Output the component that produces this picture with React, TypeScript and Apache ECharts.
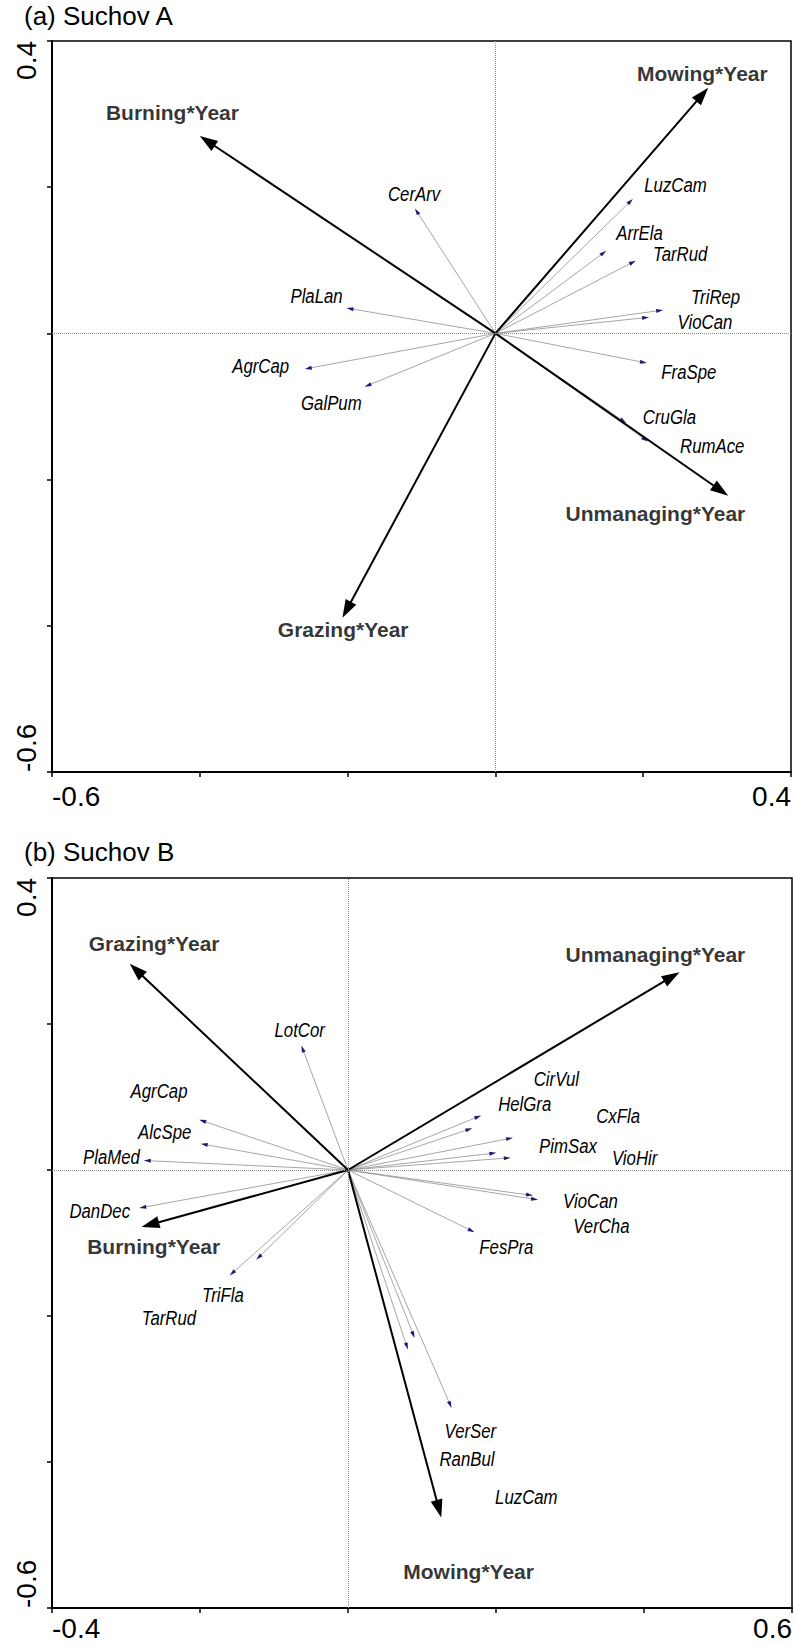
import React, { useEffect, useRef } from "react";
import * as echarts from "echarts";

// ---------- Panel (a) Suchov A ----------
const envNamesA = ["Burning*Year", "Mowing*Year", "Grazing*Year", "Unmanaging*Year"];
const envXA = [-0.4, 0.288, -0.207, 0.315];
const envYA = [0.27, 0.336, -0.389, -0.222];
const envLabelXA = [-0.437, 0.28, -0.206, 0.2165];
const envLabelYA = [0.302, 0.355, -0.405, -0.247];

const spNamesA = ["CerArv", "PlaLan", "AgrCap", "GalPum", "LuzCam", "ArrEla", "TarRud", "TriRep", "VioCan", "FraSpe", "CruGla", "RumAce"];
const spXA = [-0.109, -0.2015, -0.258, -0.177, 0.186, 0.15, 0.19, 0.227, 0.208, 0.205, 0.177, 0.2065];
const spYA = [0.171, 0.0347, -0.0487, -0.0729, 0.184, 0.113, 0.0995, 0.032, 0.022, -0.0405, -0.1226, -0.148];
const spLabelXA = [-0.11, -0.242, -0.3176, -0.222, 0.2437, 0.195, 0.25, 0.298, 0.2836, 0.2618, 0.2355, 0.2934];
const spLabelYA = [0.1915, 0.0516, -0.044, -0.0944, 0.203, 0.137, 0.1086, 0.0502, 0.0164, -0.0524, -0.1135, -0.1536];

const xTicksA = ["-0.6", "", "", "", "", "0.4"];
const yTicksA = ["-0.6", "", "", "", "", "0.4"];

// ---------- Panel (b) Suchov B ----------
const envNamesB = ["Grazing*Year", "Unmanaging*Year", "Burning*Year", "Mowing*Year"];
const envXB = [-0.295, 0.448, -0.279, 0.126];
const envYB = [0.2825, 0.271, -0.078, -0.476];
const envLabelXB = [-0.262, 0.4154, -0.2626, 0.163];
const envLabelYB = [0.31, 0.295, -0.1048, -0.55];

const spNamesB = ["LotCor", "AgrCap", "AlcSpe", "PlaMed", "DanDec", "TriFla", "TarRud", "CirVul", "HelGra", "CxFla", "PimSax", "VioHir", "VioCan", "VerCha", "FesPra", "VerSer", "RanBul", "LuzCam"];
const spXB = [-0.063, -0.201, -0.199, -0.276, -0.282, -0.124, -0.16, 0.18, 0.168, 0.223, 0.2005, 0.22, 0.25, 0.2568, 0.171, 0.09, 0.081, 0.14];
const spYB = [0.1705, 0.0688, 0.0359, 0.013, -0.052, -0.123, -0.1445, 0.0747, 0.0573, 0.0441, 0.0235, 0.0167, -0.035, -0.0408, -0.0852, -0.23, -0.246, -0.326];
const spLabelXB = [-0.0653, -0.2554, -0.2477, -0.3197, -0.3355, -0.169, -0.242, 0.2816, 0.2388, 0.365, 0.2973, 0.3874, 0.3276, 0.3424, 0.214, 0.1654, 0.1608, 0.241];
const spLabelYB = [0.1925, 0.1089, 0.0518, 0.0175, -0.0555, -0.1705, -0.2025, 0.125, 0.0907, 0.0737, 0.0336, 0.0162, -0.0427, -0.076, -0.1058, -0.357, -0.3956, -0.448];

const xTicksB = ["-0.4", "", "", "", "", "0.6"];
const yTicksB = ["-0.6", "", "", "", "", "0.4"];

const titles = ["(a) Suchov A", "(b) Suchov B"];

const FONT = "'Liberation Sans', Arial, Helvetica, sans-serif";

function arrowRenderer(stroke: string, lw: number, headFill: string, L: number, W: number) {
  return (params: any, api: any) => {
    const o = api.coord([0, 0]);
    const p = api.coord([api.value(0), api.value(1)]);
    const dx = p[0] - o[0];
    const dy = p[1] - o[1];
    const len = Math.hypot(dx, dy) || 1;
    const ux = dx / len;
    const uy = dy / len;
    const bx = p[0] - ux * L;
    const by = p[1] - uy * L;
    const nx = -uy;
    const ny = ux;
    return {
      type: "group",
      children: [
        { type: "line", shape: { x1: o[0], y1: o[1], x2: bx + ux * 1, y2: by + uy * 1 }, style: { stroke, lineWidth: lw } },
        {
          type: "polygon",
          shape: { points: [[p[0], p[1]], [bx + (nx * W) / 2, by + (ny * W) / 2], [bx - (nx * W) / 2, by - (ny * W) / 2]] },
          style: { fill: headFill, stroke: "none" },
        },
      ],
    };
  };
}

// condensed italic species names (narrow face drawn by horizontal scaling)
function speciesLabelRenderer(names: string[]) {
  return (params: any, api: any) => {
    const p = api.coord([api.value(0), api.value(1)]);
    return {
      type: "text",
      x: p[0],
      y: p[1],
      scaleX: 0.8,
      scaleY: 1,
      style: {
        text: names[params.dataIndex],
        x: 0,
        y: 0,
        align: "center",
        verticalAlign: "middle",
        fontFamily: FONT,
        fontStyle: "italic",
        fontSize: 21,
        fill: "#000",
      },
    };
  };
}

function axesFor(idx: number, min: number, max: number, ticks: string[], isY: boolean, margin: number) {
  return {
    type: "value",
    gridIndex: idx,
    min,
    max,
    interval: 0.2,
    splitLine: { show: false },
    axisLine: { show: true, onZero: false, lineStyle: { color: "#000", width: 2 } },
    axisTick: { show: true, length: 5, lineStyle: { color: "#000", width: 1.5 } },
    axisLabel: {
      show: true,
      interval: 0,
      showMinLabel: true,
      showMaxLabel: true,
      rotate: isY ? 90 : 0,
      margin,
      fontSize: 28,
      fontFamily: FONT,
      color: "#000",
      alignMinLabel: "left",
      alignMaxLabel: "right",
      formatter: (_v: number, i: number) => ticks[i] ?? "",
    },
  };
}

function panelSeries(
  idx: number,
  spX: number[], spY: number[], spNames: string[], spLX: number[], spLY: number[],
  envX: number[], envY: number[], envNames: string[], envLX: number[], envLY: number[]
) {
  return [
    {
      type: "scatter",
      xAxisIndex: idx,
      yAxisIndex: idx,
      z: 1,
      silent: true,
      symbolSize: 0,
      data: [[0, 0]],
      markLine: {
        silent: true,
        symbol: "none",
        label: { show: false },
        lineStyle: { type: "dotted", color: "#8a8a8a", width: 1 },
        data: [{ xAxis: 0 }, { yAxis: 0 }],
      },
    },
    {
      type: "custom",
      xAxisIndex: idx,
      yAxisIndex: idx,
      z: 3,
      silent: true,
      renderItem: arrowRenderer("#8f8f8f", 0.8, "#1c1c78", 7, 4),
      data: spX.map((x, i) => [x, spY[i]]),
    },
    {
      type: "custom",
      xAxisIndex: idx,
      yAxisIndex: idx,
      z: 4,
      silent: true,
      renderItem: arrowRenderer("#000", 2, "#000", 18, 12),
      data: envX.map((x, i) => [x, envY[i]]),
    },
    {
      type: "custom",
      xAxisIndex: idx,
      yAxisIndex: idx,
      z: 5,
      silent: true,
      renderItem: speciesLabelRenderer(spNames),
      data: spLX.map((x, i) => [x, spLY[i]]),
    },
    {
      type: "scatter",
      xAxisIndex: idx,
      yAxisIndex: idx,
      z: 5,
      silent: true,
      symbolSize: 0,
      data: envLX.map((x, i) => [x, envLY[i], envNames[i]]),
      label: {
        show: true,
        position: "inside",
        formatter: (p: any) => p.data[2],
        fontFamily: FONT,
        fontWeight: "bold",
        fontSize: 21,
        color: "#000",
      },
    },
  ];
}

export default function App() {
  const ref = useRef<HTMLDivElement>(null);
  useEffect(() => {
    if (!ref.current) return;
    const chart = echarts.init(ref.current, undefined, { renderer: "svg" });
    const option: any = {
      animation: false,
      backgroundColor: "#fff",
      title: [
        { text: titles[0], left: 24, top: 3, padding: 0, textStyle: { fontSize: 26, fontWeight: "normal", fontFamily: FONT, color: "#000" } },
        { text: titles[1], left: 24, top: 839, padding: 0, textStyle: { fontSize: 26, fontWeight: "normal", fontFamily: FONT, color: "#000" } },
      ],
      grid: [
        { left: 52, top: 41, width: 739, height: 731, show: true, borderColor: "#000", borderWidth: 1.5, outerBoundsMode: "none", containLabel: false },
        { left: 52, top: 878, width: 740, height: 730, show: true, borderColor: "#000", borderWidth: 1.5, outerBoundsMode: "none", containLabel: false },
      ],
      xAxis: [axesFor(0, -0.6, 0.4, xTicksA, false, 10), axesFor(1, -0.4, 0.6, xTicksB, false, 6)],
      yAxis: [axesFor(0, -0.6, 0.4, yTicksA, true, 12), axesFor(1, -0.6, 0.4, yTicksB, true, 12)],
      series: [
        ...panelSeries(0, spXA, spYA, spNamesA, spLabelXA, spLabelYA, envXA, envYA, envNamesA, envLabelXA, envLabelYA),
        ...panelSeries(1, spXB, spYB, spNamesB, spLabelXB, spLabelYB, envXB, envYB, envNamesB, envLabelXB, envLabelYB),
      ],
    };
    chart.setOption(option);
    return () => chart.dispose();
  }, []);
  return <div ref={ref} style={{ position: "absolute", left: 0, top: 0, width: 794, height: 1645 }} />;
}
